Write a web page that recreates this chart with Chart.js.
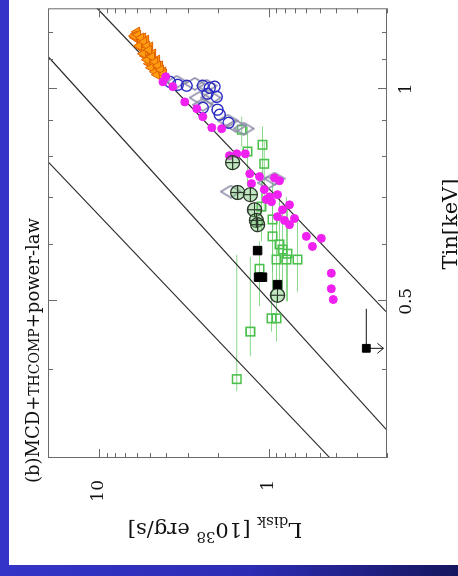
<!DOCTYPE html>
<html>
<head>
<meta charset="utf-8">
<script src="https://cdn.jsdelivr.net/npm/chart.js@4.4.0/dist/chart.umd.min.js"></script>
<style>
  html, body { margin: 0; padding: 0; }
  body {
    width: 458px; height: 576px; overflow: hidden; position: relative;
    background: linear-gradient(to right, #3434c8 0%, #2c2cb4 55%, #16165e 100%);
  }
  /* the plot is drawn upright, then turned a quarter turn to the left */
  #wrap {
    position: absolute; left: 0; top: 0; width: 565px; height: 449px;
    transform-origin: 0 0; transform: translate(9px, 565px) rotate(-90deg);
    background: #fff;
  }
</style>
</head>
<body>
<div id="wrap"><canvas id="c" width="565" height="449"></canvas></div>
<script>
// axis ticks
const tinMajor = [0.5, 1];
const tinMinor = [0.3, 0.4, 0.6, 0.7, 0.8, 0.9, 1.1, 1.2];
const lumMajor = [1, 10];
const lumMinor = [0.2, 0.3, 0.4, 0.5, 0.6, 0.7, 0.8, 0.9, 2, 3, 4, 5, 6, 7, 8, 9];

// L ~ Tin^4 reference lines (end points read at the frame)
const line1Tin = [1.302, 0.4837], line1L = [10.33, 0.203];
const line2Tin = [1.110, 0.3294], line2L = [19.95, 0.2025];
const line3Tin = [0.788, 0.299],  line3L = [19.95, 0.428];

// orange triangles
const orangeTin = [1.196, 1.181, 1.169, 1.158, 1.143, 1.135, 1.124, 1.113, 1.106, 1.095, 1.085, 1.081, 1.071,
                   1.064, 1.057, 1.050, 1.043, 1.150, 1.121, 1.099, 1.071, 1.057, 1.181, 1.047, 1.204, 1.188,
                   1.173, 1.147, 1.121, 1.099, 1.078, 1.057, 1.181,
                   1.192, 1.181, 1.166, 1.150, 1.135, 1.110, 1.092, 1.078, 1.064, 1.050];
const orangeL = [6.06, 5.90, 5.74, 5.58, 5.66, 5.43, 5.29, 5.36, 5.15, 5.01, 5.08, 4.88, 4.75,
                 4.62, 4.50, 4.38, 4.26, 5.82, 5.51, 5.22, 4.94, 4.68, 6.14, 4.56, 5.98, 6.22,
                 5.29, 5.01, 4.81, 4.56, 4.38, 4.20, 5.51,
                 5.90, 5.66, 5.43, 5.22, 5.08, 4.88, 4.68, 4.50, 4.32, 4.15];

// blue open circles
const blueTin = [1.023, 1.013, 1.010, 1.010, 1.003, 1.007, 0.984, 0.974, 0.940, 0.934, 0.919, 0.895];
const blueL = [3.82, 3.43, 3.04, 2.44, 2.22, 2.08, 2.29, 2.02, 2.44, 2.00, 1.94, 1.72];

// grey diamonds
const grayTin = [1.023, 1.016, 1.010, 0.971, 0.971, 0.949, 0.901, 0.886, 0.878, 0.746, 0.736, 0.715];
const grayL = [3.48, 2.72, 2.32, 2.55, 2.19, 2.44, 1.74, 1.56, 1.40, 0.922, 1.01, 1.67];

// magenta dots
const magTin = [1.040, 1.023, 1.007, 0.958, 0.937, 0.913, 0.881, 0.878, 0.804, 0.809, 0.809, 0.758, 0.751,
                0.734, 0.748, 0.741, 0.720, 0.697, 0.703, 0.708, 0.692, 0.659, 0.674, 0.651, 0.685, 0.642,
                0.655, 0.618, 0.598, 0.614, 0.548, 0.521, 0.503];
const magL = [4.04, 4.20, 3.67, 3.12, 2.65, 2.44, 2.16, 1.89, 1.70, 1.54, 1.37, 1.29, 1.13,
              1.26, 0.922, 0.862, 1.06, 1.03, 0.987, 0.885, 0.960, 0.885, 0.827, 0.805, 0.752, 0.752,
              0.703, 0.598, 0.551, 0.488, 0.426, 0.426, 0.415];

// green open squares with Tin error bars
const greenTin = [0.875, 0.815, 0.833, 0.783, 0.681, 0.653, 0.618, 0.602, 0.592, 0.584, 0.573, 0.573, 0.573,
                  0.556, 0.473, 0.473, 0.453, 0.388];
const greenL = [1.44, 1.33, 1.085, 1.06, 1.10, 0.947, 0.947, 0.862, 0.827, 0.773, 0.897, 0.784, 0.675,
                1.13, 0.960, 0.897, 1.28, 1.54];
const greenTinLo = [0.828, 0.727, 0.692, 0.670, 0.608, 0.551, 0.516, 0.525, 0.516, 0.500, 0.533, 0.500, 0.516,
                    0.492, 0.453, 0.439, 0.418, 0.373];
const greenTinHi = [0.913, 0.884, 0.884, 0.841, 0.763, 0.739, 0.692, 0.703, 0.670, 0.692, 0.659, 0.703, 0.655,
                    0.608, 0.516, 0.508, 0.578, 0.582];

// circled crosses
const plusTin = [0.786, 0.713, 0.708, 0.674, 0.651, 0.642, 0.510];
const plusL = [1.63, 1.52, 1.28, 1.21, 1.18, 1.16, 0.885];

// black squares
const blackTin = [0.590, 0.541, 0.541, 0.528];
const blackL = [1.16, 1.145, 1.085, 0.885];

// upper limit
const limitTin = [0.429], limitL = [0.265], limitTinHi = [0.488], limitLArrow = [0.21];

const pts = (xs, ys) => xs.map((x, i) => ({ x: x, y: ys[i] }));

// flattened diamond marker
const diamond = document.createElement('canvas');
diamond.width = 14; diamond.height = 22;
(function () {
  const g = diamond.getContext('2d');
  g.strokeStyle = '#8e8eaa'; g.lineWidth = 1.6;
  g.beginPath(); g.moveTo(7, 1); g.lineTo(13, 11); g.lineTo(7, 21); g.lineTo(1, 11); g.closePath(); g.stroke();
})();

function richText(ctx, parts, x, y) {
  let cx = x;
  parts.forEach(p => {
    ctx.font = p.size + 'px "DejaVu Serif"';
    ctx.fillText(p.t, cx, y + (p.dy || 0));
    cx += ctx.measureText(p.t).width;
  });
  return cx - x;
}
function richWidth(ctx, parts) {
  let w = 0;
  parts.forEach(p => { ctx.font = p.size + 'px "DejaVu Serif"'; w += ctx.measureText(p.t).width; });
  return w;
}

const decor = {
  id: 'decor',
  beforeDatasetsDraw(chart) {
    const ctx = chart.ctx, xs = chart.scales.x, ys = chart.scales.y, a = chart.chartArea;
    ctx.save();
    ctx.beginPath(); ctx.rect(a.left, a.top, a.right - a.left, a.bottom - a.top); ctx.clip();
    ctx.strokeStyle = 'rgba(110,205,110,0.8)'; ctx.lineWidth = 1;
    greenTin.forEach((t, i) => {
      const py = ys.getPixelForValue(greenL[i]);
      ctx.beginPath();
      ctx.moveTo(xs.getPixelForValue(greenTinLo[i]), py);
      ctx.lineTo(xs.getPixelForValue(greenTinHi[i]), py);
      ctx.stroke();
    });
    // upper limit bar and arrow
    ctx.strokeStyle = '#111'; ctx.lineWidth = 1;
    limitTin.forEach((t, i) => {
      const px = xs.getPixelForValue(t), py = ys.getPixelForValue(limitL[i]);
      const pxh = xs.getPixelForValue(limitTinHi[i]), pya = ys.getPixelForValue(limitLArrow[i]);
      ctx.beginPath(); ctx.moveTo(px, py); ctx.lineTo(pxh, py);
      ctx.moveTo(px, py); ctx.lineTo(px, pya);
      ctx.moveTo(px - 5, pya - 6); ctx.lineTo(px, pya); ctx.lineTo(px + 5, pya - 6);
      ctx.stroke();
    });
    ctx.restore();
  },
  afterDraw(chart) {
    const ctx = chart.ctx, xs = chart.scales.x, ys = chart.scales.y, a = chart.chartArea;
    ctx.save();
    ctx.strokeStyle = '#6a6a6a'; ctx.lineWidth = 1;
    ctx.strokeRect(a.left + 0.5, a.top + 0.5, a.right - a.left - 1, a.bottom - a.top - 1);
    ctx.beginPath();
    const tx = (v, len) => {
      const p = Math.round(xs.getPixelForValue(v)) + 0.5;
      ctx.moveTo(p, a.bottom); ctx.lineTo(p, a.bottom - len);
      ctx.moveTo(p, a.top); ctx.lineTo(p, a.top + len);
    };
    const ty = (v, len) => {
      const p = Math.round(ys.getPixelForValue(v)) + 0.5;
      ctx.moveTo(a.left, p); ctx.lineTo(a.left + len, p);
      ctx.moveTo(a.right, p); ctx.lineTo(a.right - len, p);
    };
    tinMajor.forEach(v => tx(v, 9)); tinMinor.forEach(v => tx(v, 5));
    lumMajor.forEach(v => ty(v, 9)); lumMinor.forEach(v => ty(v, 5));
    ctx.stroke();

    ctx.fillStyle = '#111'; ctx.textBaseline = 'alphabetic';
    // panel title
    richText(ctx, [{ t: '(b)MCD+', size: 18 }, { t: 'THCOMP', size: 14 }, { t: '+power-law', size: 18 }], 82, 30);
    // x title
    const xt = [{ t: 'Tin[keV]', size: 21 }];
    richText(ctx, xt, 341 - richWidth(ctx, xt) / 2, 448);
    // y title
    const yt = [{ t: 'L', size: 21 }, { t: 'disk', size: 15, dy: 6 }, { t: ' [10', size: 21 },
                { t: '38', size: 15, dy: -9 }, { t: ' erg/s]', size: 21 }];
    ctx.translate(42, 206 + richWidth(ctx, yt) / 2);
    ctx.rotate(-Math.PI / 2);
    richText(ctx, yt, 0, 0);
    ctx.restore();
  }
};

const lineStyle = { showLine: true, pointRadius: 0, borderColor: '#2a2a2a', borderWidth: 1.2, order: 20 };

new Chart(document.getElementById('c'), {
  type: 'scatter',
  data: {
    datasets: [
      Object.assign({ label: 'line1', data: pts(line1Tin, line1L) }, lineStyle),
      Object.assign({ label: 'line2', data: pts(line2Tin, line2L) }, lineStyle),
      Object.assign({ label: 'line3', data: pts(line3Tin, line3L) }, lineStyle),
      { label: 'green', data: pts(greenTin, greenL), pointStyle: 'rect', pointRadius: 6,
        borderColor: '#4cc04c', borderWidth: 1.6, backgroundColor: 'rgba(0,0,0,0)', order: 9 },
      { label: 'gray', data: pts(grayTin, grayL), pointStyle: diamond, order: 8 },
      { label: 'blue', data: pts(blueTin, blueL), pointStyle: 'circle', pointRadius: 5.5,
        borderColor: '#2b2bc4', borderWidth: 1.4, backgroundColor: 'rgba(0,0,0,0)', order: 7 },
      { label: 'orange', data: pts(orangeTin, orangeL), pointStyle: 'triangle', pointRadius: 5.5,
        borderColor: '#e06000', borderWidth: 1, backgroundColor: '#ff9c10', order: 6 },
      { label: 'magenta', data: pts(magTin, magL), pointStyle: 'circle', pointRadius: 4,
        borderColor: '#f020f0', borderWidth: 1, backgroundColor: '#f020f0', order: 5 },
      { label: 'circled', data: pts(plusTin, plusL), pointStyle: 'circle', pointRadius: 7,
        borderColor: '#2c3a2c', borderWidth: 1.3, backgroundColor: 'rgba(120,200,120,0.45)', order: 4 },
      { label: 'cross', data: pts(plusTin, plusL), pointStyle: 'cross', pointRadius: 7,
        borderColor: '#2c3a2c', borderWidth: 1.2, order: 3 },
      { label: 'black', data: pts(blackTin, blackL), pointStyle: 'rect', pointRadius: 6,
        borderColor: '#000', borderWidth: 1, backgroundColor: '#000', order: 2 },
      { label: 'limit', data: pts(limitTin, limitL), pointStyle: 'rect', pointRadius: 5.5,
        borderColor: '#000', borderWidth: 1, backgroundColor: '#000', order: 1 }
    ]
  },
  options: {
    responsive: false,
    animation: false,
    layout: { padding: { top: 39, right: 6, left: 0, bottom: 0 } },
    plugins: { legend: { display: false }, tooltip: { enabled: false } },
    scales: {
      x: {
        type: 'logarithmic', position: 'bottom', min: 0.3, max: 1.3,
        grid: { display: false }, border: { display: false },
        afterBuildTicks: s => { s.ticks = tinMajor.map(v => ({ value: v })); },
        afterFit: s => { s.height = 71; },
        ticks: { autoSkip: false, maxRotation: 0, padding: 1, color: '#111',
                 font: { family: 'DejaVu Serif', size: 17 }, callback: v => String(v) }
      },
      y: {
        type: 'logarithmic', position: 'left', min: 0.2, max: 20,
        grid: { display: false }, border: { display: false },
        afterBuildTicks: s => { s.ticks = lumMajor.map(v => ({ value: v })); },
        afterFit: s => { s.width = 107; },
        ticks: { autoSkip: false, padding: 14, color: '#111',
                 font: { family: 'DejaVu Serif', size: 17 }, callback: v => String(v) }
      }
    }
  },
  plugins: [decor]
});
</script>
</body>
</html>
